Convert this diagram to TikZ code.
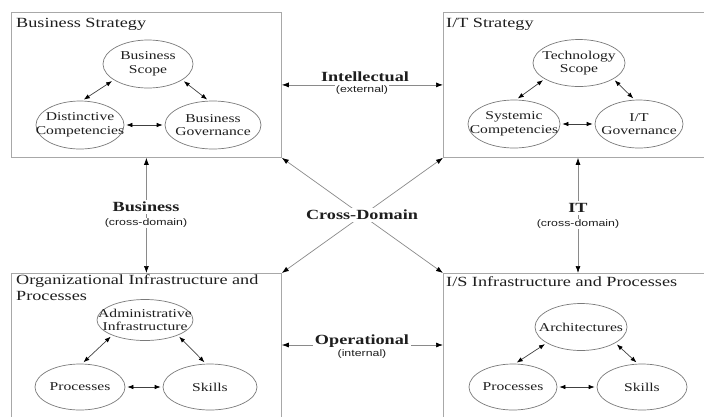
\documentclass[tikz,border=0pt]{standalone}
\usepackage{fontspec}
\setmainfont{Liberation Serif}[FakeStretch=1.3]
\setsansfont{Liberation Sans}[FakeStretch=1.3]
\usetikzlibrary{arrows.meta,shapes.geometric}
\definecolor{boxgray}{HTML}{A8A8A8}
\definecolor{ellgray}{HTML}{7A7A7A}
\definecolor{linkgray}{HTML}{8A8A8A}
\definecolor{txt}{HTML}{1E1E1E}
\newcommand\zl[1]{\makebox[0pt]{#1}}
\begin{document}
\begin{tikzpicture}[x=1pt,y=-1pt,
  box/.style={draw=boxgray, line width=0.8pt, rectangle, inner sep=0pt, anchor=north west},
  ell/.style={draw=ellgray, ellipse, inner sep=0pt, align=center, line width=0.7pt,
    font=\fontsize{12}{13.5}\selectfont, text=txt},
  boxtitle/.style={anchor=base west, inner sep=0pt, font=\fontsize{14}{16}\selectfont, text=txt},
  biarrow/.style={draw=black!75, line width=0.7pt, shorten <=2pt, shorten >=2pt,
    {Latex[length=6pt,width=4.5pt,color=black]}-{Latex[length=6pt,width=4.5pt,color=black]}},
  link/.style={draw=linkgray, line width=0.7pt,
    {Latex[length=7pt,width=5pt,color=black]}-{Latex[length=7pt,width=5pt,color=black]}},
  biglabel/.style={fill=white, inner sep=2pt, font=\bfseries\fontsize{14}{15}\selectfont, text=txt},
  sublabel/.style={fill=white, inner sep=1pt, font=\sffamily\fontsize{9.5}{10}\selectfont, text=txt}]
\useasboundingbox (0,0) rectangle (704,416);
\clip (0,0) rectangle (704,416);

% boxes
\node[box, minimum width=270pt, minimum height=145pt] (bs) at (11,12) {};
\node[box, minimum width=280pt, minimum height=145pt] (it) at (443,12) {};
\node[box, minimum width=270pt, minimum height=160pt] (oi) at (11,273) {};
\node[box, minimum width=280pt, minimum height=160pt] (is) at (443,273) {};

% titles
\node[boxtitle] (t1) at (16,27) {Business Strategy};
\node[boxtitle] (t2) at (446,27) {I/T Strategy};
\node[boxtitle] (t3) at (16,284) {Organizational Infrastructure and};
\node[boxtitle] (t3b) at (16,300) {Processes};
\node[boxtitle] (t4) at (446,286) {I/S Infrastructure and Processes};

% business strategy ellipses
\node[ell, minimum width=90pt, minimum height=48pt] (bsc) at (148,64) {\zl{Business}\\\zl{Scope}};
\node[ell, minimum width=88pt, minimum height=48pt] (bdc) at (80,125) {\zl{Distinctive}\\\zl{Competencies}};
\node[ell, minimum width=96pt, minimum height=48pt] (bgo) at (213,125) {\zl{Business}\\\zl{Governance}};
\draw[biarrow] (bsc.205) -- (bdc.85);
\draw[biarrow] (bsc.335) -- (bgo.100);
\draw[biarrow] (bdc.east) -- (bgo.west);

% IT strategy ellipses
\node[ell, minimum width=92pt, minimum height=47pt] (tsc) at (579,63) {\zl{Technology}\\\zl{Scope}};
\node[ell, minimum width=92pt, minimum height=48pt] (tsy) at (514,124) {\zl{Systemic}\\\zl{Competencies}};
\node[ell, minimum width=88pt, minimum height=48pt] (tgo) at (639,124) {\zl{I/T}\\\zl{Governance}};
\draw[biarrow] (tsc.205) -- (tsy.85);
\draw[biarrow] (tsc.335) -- (tgo.100);
\draw[biarrow] (tsy.east) -- (tgo.west);

% organizational infrastructure ellipses
\node[ell, minimum width=96pt, minimum height=41pt] (oad) at (145,320) {\zl{Administrative}\\\zl{Infrastructure}};
\node[ell, minimum width=90pt, minimum height=46pt] (opr) at (80,387) {\zl{Processes}};
\node[ell, minimum width=94pt, minimum height=46pt] (osk) at (210,387) {\zl{Skills}};
\draw[biarrow] (oad.205) -- (opr.85);
\draw[biarrow] (oad.335) -- (osk.100);
\draw[biarrow] (opr.east) -- (osk.west);

% IS infrastructure ellipses
\node[ell, minimum width=92pt, minimum height=47pt] (iar) at (581,327) {\zl{Architectures}};
\node[ell, minimum width=88pt, minimum height=46pt] (ipr) at (513,387) {\zl{Processes}};
\node[ell, minimum width=90pt, minimum height=46pt] (isk) at (642,387) {\zl{Skills}};
\draw[biarrow] (iar.205) -- (ipr.85);
\draw[biarrow] (iar.335) -- (isk.100);
\draw[biarrow] (ipr.east) -- (isk.west);

% connectors between domains
\coordinate (itx) at (578,0);
\coordinate (opy) at (0,345);
\draw[link] (bs.east) -- (it.west |- bs.east);
\draw[link] (oi.east |- opy) -- (is.west |- opy);
\draw[link] (bs.south) -- (oi.north -| bs.south);
\draw[link] (it.south -| itx) -- (is.north -| itx);
\draw[link] (bs.south east) -- (is.north west);
\draw[link] (it.south west) -- (oi.north east);

% labels
\node[biglabel] (lint) at (365,77) {Intellectual};
\node[sublabel] (lext) at (362,90) {(external)};
\node[biglabel] (lop) at (362,341) {Operational};
\node[sublabel] (lintl) at (362,354) {(internal)};
\node[biglabel] (lbus) at (146,207) {Business};
\node[sublabel] (lbcd) at (146,223) {(cross-domain)};
\node[biglabel] (lit) at (578,208) {IT};
\node[sublabel] (licd) at (578,224) {(cross-domain)};
\node[biglabel] (lcd) at (362,215) {Cross-Domain};
\end{tikzpicture}
\end{document}
